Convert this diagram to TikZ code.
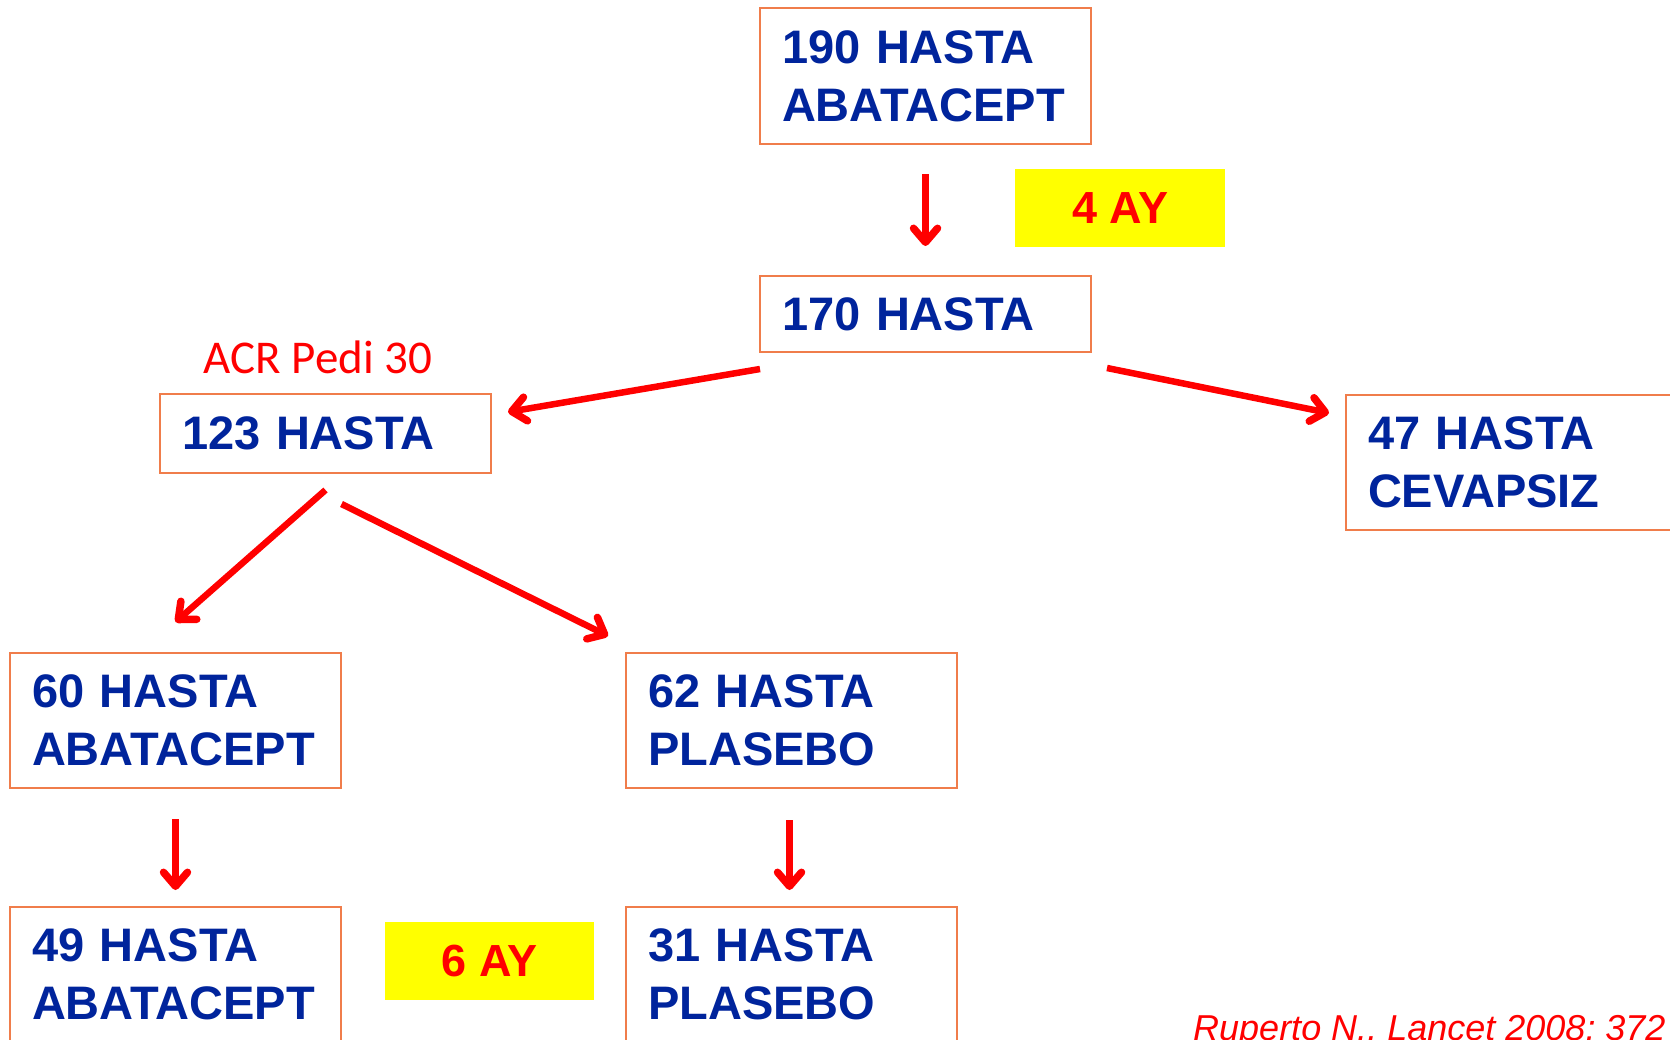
\documentclass[tikz,border=0pt]{standalone}
\usepackage{fontspec}
\setmainfont{Liberation Sans}
\newfontfamily\calib{Carlito}
\usetikzlibrary{arrows.meta,calc}
\definecolor{boxc}{RGB}{240,125,75}
\definecolor{txtblue}{RGB}{0,36,156}
\definecolor{myred}{RGB}{255,0,0}
\definecolor{myyellow}{RGB}{255,255,0}
\begin{document}
\begin{tikzpicture}[x=1pt,y=-1pt,
  hbox/.style={draw=boxc,line width=2pt,anchor=north west,minimum width=331pt,
    text width=287pt,inner xsep=22pt,inner ysep=0pt,align=left,text=txtblue,
    font=\fontsize{47}{58}\selectfont\bfseries},
  ybox/.style={fill=myyellow,anchor=north west,inner sep=0pt,minimum width=210pt,
    minimum height=78pt,text=myred,font=\fontsize{45}{54}\selectfont\bfseries},
  arr/.style={draw=myred,line width=6.5pt,-{Straight Barb[round,length=14pt,width=24pt,line width=7.5pt]}}]
\useasboundingbox (0,0) rectangle (1670,1039);
\clip (0,0) rectangle (1670,1039);
\fill[white] (0,0) rectangle (1670,1039);
% boxes
\node[hbox,minimum height=136pt] (b190) at (759,7) {190 HASTA\\ABATACEPT};
\node[hbox,minimum height=76pt] (b170) at (759,275) {170 HASTA};
\node[hbox,minimum height=79pt] (b123) at (159,393) {123 HASTA};
\node[hbox,minimum height=135pt] (b47) at (1345,394) {47 HASTA\\CEVAPSIZ};
\node[hbox,minimum height=135pt] (b60) at (9,652) {60 HASTA\\ABATACEPT};
\node[hbox,minimum height=135pt] (b62) at (625,652) {62 HASTA\\PLASEBO};
\node[hbox,minimum height=135pt] (b49) at (9,906) {49 HASTA\\ABATACEPT};
\node[hbox,minimum height=135pt] (b31) at (625,906) {31 HASTA\\PLASEBO};
% yellow labels
\node[ybox] (y4) at (1015,169) {4 AY};
\node[ybox,minimum width=209pt] (y6) at (385,922) {6 AY};
% other texts
\node[anchor=base,inner sep=0pt,text=myred,font=\calib\fontsize{47}{56}\selectfont] (acr) at (318,373) {ACR Pedi 30};
\node[anchor=base west,inner sep=0pt,text=myred,font=\fontsize{36}{43}\selectfont\itshape] (cite) at (1193,1040) {Ruperto N., Lancet 2008; 372};
% arrows
\draw[arr] ($(b190.south)+(0,29)$) -- ($(b170.north)+(0,-29)$);
\draw[arr] ($(b170.south west)+(1,16)$) -- ($(b123.north east)+(16,19)$);
\draw[arr] ($(b170.south east)+(15,15)$) -- ($(b47.north west)+(-16,19)$);
\draw[arr] ($(b123.south)+(0,16)$) -- ($(b60.north)+(0,-30)$);
\draw[arr] ($(b123.south)+(16,30)$) -- ($(b62.north west)+(-17,-16)$);
\draw[arr] ($(b60.south)+(0,30)$) -- ($(b49.north)+(0,-16)$);
\draw[arr] ($(b62.south)+(-2,31)$) -- ($(b31.north)+(-2,-16)$);
\end{tikzpicture}
\end{document}
